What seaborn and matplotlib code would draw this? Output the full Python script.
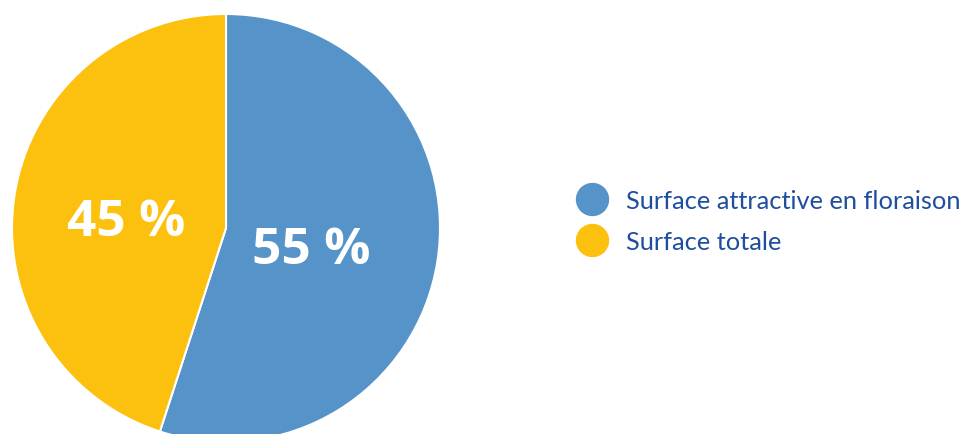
import matplotlib
matplotlib.use("Agg")
import matplotlib.pyplot as plt
import seaborn as sns
from matplotlib.lines import Line2D

sns.set_theme(style="white")
plt.rcParams['font.family'] = ['Open Sans', 'DejaVu Sans']

# data
labels = ["Surface attractive en floraison", "Surface totale"]
values = [55, 45]
colors = ["#5593C8", "#FCC10E"]
text_blue = "#1E4E9C"

fig = plt.figure(figsize=(9.64, 4.35), dpi=100)
# square axes box in pixels: center (226, 229), radius 214
cx, cy, r = 226, 229, 214
ax = fig.add_axes([(cx - r) / 964, (435 - cy - r) / 435, 2 * r / 964, 2 * r / 435])

wedges, texts, autotexts = ax.pie(
    values,
    colors=colors,
    startangle=90,
    counterclock=False,
    autopct=lambda p: f"{p:.0f} %",
    wedgeprops=dict(edgecolor="white", linewidth=1.5),
    textprops=dict(color="white", fontsize=37, fontweight="bold"),
)
# label placement inside the slices
autotexts[0].set_position((0.40, -0.105))
autotexts[1].set_position((-0.467, 0.027))
ax.set_xlim(-1, 1)
ax.set_ylim(-1, 1)
ax.axis("off")

handles = [Line2D([0], [0], marker="o", linestyle="none", markersize=23,
                  markerfacecolor=c, markeredgecolor=c) for c in colors]
leg = fig.legend(handles, labels, loc="center left",
                 bbox_to_anchor=(564 / 964, 1 - 222 / 435),
                 frameon=False, handletextpad=0.75,
                 labelspacing=0.68, borderpad=0, handlelength=1.2,
                 prop=dict(family=["Lato", "DejaVu Sans"], size=18.3))
for t in leg.get_texts():
    t.set_color(text_blue)

fig.savefig("out.png", dpi=100)
